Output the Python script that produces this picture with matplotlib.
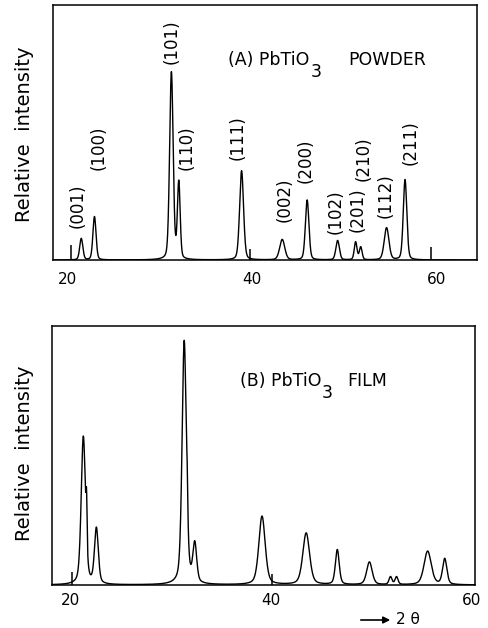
import numpy as np
import matplotlib.pyplot as plt

# (A) powder pattern: peak positions (2 theta), relative heights, widths
powder_pos = [21.54, 22.97, 31.3, 32.1, 38.9, 43.3, 46.0, 49.3, 51.25, 51.8, 54.6, 56.6]
powder_int = [8.4, 17.0, 73.5, 30.0, 35.0, 8.0, 23.5, 7.6, 7.0, 5.0, 12.6, 31.5]
powder_fwhm = [0.4, 0.4, 0.45, 0.35, 0.5, 0.65, 0.45, 0.45, 0.35, 0.35, 0.6, 0.45]
powder_hkl = ['(001)', '(100)', '(101)', '(110)', '(111)', '(002)',
              '(200)', '(102)', '(201)', '(210)', '(112)', '(211)']
powder_label_x = [21.1, 23.4, 31.3, 32.95, 38.45, 43.6, 45.85, 49.1, 51.5, 52.15, 54.5, 57.2]
powder_label_y = [21.2, 43.9, 85.5, 43.9, 47.8, 23.5, 38.8, 18.8, 19.6, 39.6, 25.1, 45.9]
powder_marks = [20.43, 39.8, 59.4]
powder_mark_h = [5.9, 4.3, 5.1]

# (B) film pattern
film_pos = [21.3, 21.62, 22.6, 31.35, 31.65, 32.4, 39.1, 43.5, 46.6, 49.8, 51.9, 52.5, 55.6, 57.3]
film_int = [57.0, 17.0, 21.5, 94.0, 10.0, 15.0, 26.5, 20.0, 13.5, 8.8, 3.0, 3.0, 13.0, 10.0]
film_fwhm = [0.5, 0.12, 0.45, 0.5, 0.12, 0.45, 0.75, 0.8, 0.45, 0.65, 0.35, 0.35, 0.85, 0.5]
film_marks = [20.2, 40.1]
film_mark_h = [5.0, 4.2]

ticks = [20, 40, 60]


def profile(x, pos, amp, fwhm, eta):
    y = np.zeros_like(x)
    for p, a, w in zip(pos, amp, fwhm):
        g = np.exp(-4 * np.log(2) * ((x - p) / w) ** 2)
        l = 1 / (1 + 4 * ((x - p) / w) ** 2)
        y += a * ((1 - eta) * g + eta * l)
    return y


def style_axes(ax, xlim, pad):
    ax.set_xlim(xlim)
    ax.set_ylim(0, 100)
    ax.set_yticks([])
    ax.set_xticks(ticks)
    ax.tick_params(axis='x', length=0, pad=pad, labelsize=11)
    for s in ax.spines.values():
        s.set_linewidth(1.1)


def formula_title(ax, x, y, prefix, suffix_x, suffix):
    t = ax.text(x, y, prefix + 'PbTiO', transform=ax.transAxes, fontsize=12.5, va='baseline')
    ax.annotate('3', xy=(1, 0), xycoords=t, xytext=(0.5, -5.5), textcoords='offset points',
                fontsize=12.5, va='baseline')
    ax.text(suffix_x, y, suffix, transform=ax.transAxes, fontsize=12.5, va='baseline')


fig = plt.figure(figsize=(4.88, 6.28), dpi=100)
axA = fig.add_axes([0.109, 0.586, 0.8686, 0.406])
axB = fig.add_axes([0.107, 0.0685, 0.866, 0.4124])

# panel A
xa = np.linspace(18.5, 64.4, 4000)
axA.plot(xa, profile(xa, powder_pos, powder_int, powder_fwhm, 0.25), color='k', lw=1.0)
axA.vlines(powder_marks, 0, powder_mark_h, color='k', lw=1.1)
for lab, lx, ly in zip(powder_hkl, powder_label_x, powder_label_y):
    axA.text(lx, ly, lab, rotation=90, ha='center', va='center', fontsize=12)
style_axes(axA, (18.5, 64.4), 8.5)
formula_title(axA, 0.413, 0.765, '(A) ', 0.696, 'POWDER')

# panel B
xb = np.linspace(18.2, 60.3, 4000)
axB.plot(xb, profile(xb, film_pos, film_int, film_fwhm, 0.4), color='k', lw=1.0)
axB.vlines(film_marks, 0, film_mark_h, color='k', lw=1.1)
style_axes(axB, (18.2, 60.3), 5.5)
formula_title(axB, 0.444, 0.768, '(B) ', 0.697, 'FILM')

fig.text(25 / 488, 0.787, 'Relative  intensity', rotation=90, ha='center', va='center', fontsize=14)
fig.text(25 / 488, 0.279, 'Relative  intensity', rotation=90, ha='center', va='center', fontsize=14)

# 2 theta arrow
axB.annotate('', xy=(393, 8), xytext=(358, 8), xycoords='figure pixels',
             arrowprops=dict(arrowstyle='-|>', color='k', lw=1.2, mutation_scale=10),
             annotation_clip=False)
fig.text(396 / 488, 8 / 628, '2 θ', ha='left', va='center', fontsize=11)

fig.savefig('out.png', dpi=100)
